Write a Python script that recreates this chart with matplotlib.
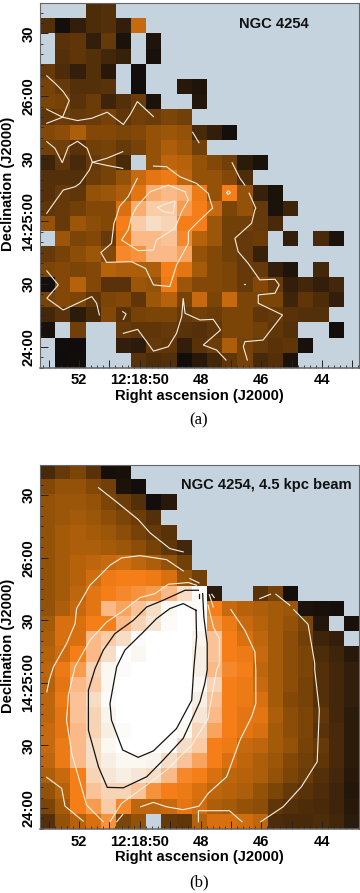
import numpy as np
import matplotlib
matplotlib.use('Agg')
import matplotlib.pyplot as plt
from matplotlib.colors import LinearSegmentedColormap
from matplotlib.ticker import MultipleLocator

N = np.nan

ra_range = [53.30, 42.80]
dec_range = [-10.06, 164.6]

flux_a = [
    [N, N, N, 28, 30, N, N, N, N, N, N, N, N, N, N, N, N, N, N, N, N],
    [30, 5, 18, 28, 30, 18, 62, N, N, N, N, N, N, N, N, N, N, N, N, N, N],
    [N, 32, 34, 18, 36, 8, N, 10, N, N, N, N, N, N, N, N, N, N, N, N, N],
    [N, 30, 34, 30, 24, 20, N, 6, N, N, N, N, N, N, N, N, N, N, N, N, N],
    [36, 28, 18, 30, 14, N, 4, N, N, N, N, N, N, N, N, N, N, N, N, N, N],
    [42, 36, 30, 30, 32, N, 3, N, N, 14, 10, N, N, N, N, N, N, N, N, N, N],
    [44, 42, 32, 38, 22, 30, 38, 8, N, N, 12, N, N, N, N, N, N, N, N, N, N],
    [34, 38, 36, 38, 42, 34, 40, 38, 44, 40, N, N, N, N, N, N, N, N, N, N, N],
    [46, 48, 56, 46, 46, 44, 46, 50, 52, 50, 26, 18, 5, N, N, N, N, N, N, N, N],
    [40, 40, 32, 40, 42, 36, 42, 50, 56, 52, 40, N, N, N, N, N, N, N, N, N, N],
    [22, 34, 26, 36, 42, 26, N, 50, 60, 58, 50, 46, 40, 16, 8, N, N, N, N, N, N],
    [30, 30, 30, 38, 42, 50, 62, 68, 70, 60, 50, 50, 46, 28, N, N, N, N, N, N, N],
    [30, 36, 34, 50, 52, 56, 68, 82, 84, 82, 70, 50, 72, 50, 20, 8, N, N, N, N, N],
    [34, 36, 40, 46, 46, 66, 82, 88, 88, 78, 72, 62, 44, 50, 36, 8, 22, N, N, N, N],
    [50, 36, 52, 48, 46, 72, 88, 92, 90, 72, 72, 52, 40, 40, 36, 26, N, N, N, N, N],
    [N, 52, 44, 46, 36, 70, 84, 84, 86, 74, 58, 52, 40, 36, 38, N, 18, N, 26, 8, N],
    [36, 42, 48, 52, 46, 74, 76, 84, 84, 80, 50, 46, 40, 36, 20, N, N, N, N, N, N],
    [44, 46, 44, 46, 58, 56, 56, 56, 72, 68, 54, 46, 44, 36, 36, 18, 10, N, 24, N, N],
    [5, 46, 58, 46, 32, 32, 52, 50, 70, 52, 46, 46, 44, 36, 46, 36, 18, 24, 18, 24, N],
    [42, 46, 44, 34, 44, 46, 34, 52, 58, 42, 62, 44, 62, 44, 44, 44, 22, 34, 28, 18, N],
    [24, 32, 16, 26, 46, 32, 42, 44, 44, 36, 40, 38, 44, 44, 34, 36, 32, 30, 30, N, N],
    [6, N, 40, N, N, 36, 34, 34, 36, 32, 30, 34, 44, 44, 40, 34, 30, N, N, 4, N],
    [N, 3, 2, N, N, 18, 16, 36, 34, 18, 32, 38, 56, 42, 36, 32, 34, 6, N, N, N],
    [N, 2, 3, N, N, N, 32, 28, 30, 3, 14, 24, 34, 42, 26, 30, 8, N, N, N, N],
]

flux_b = [
    [26, 36, 44, 32, 5, 6, N, N, N, N, N, N, N, N, N, N, N, N, N, N, N],
    [46, 50, 50, 46, 40, 8, 4, N, N, N, N, N, N, N, N, N, N, N, N, N, N],
    [50, 52, 52, 50, 44, 38, 30, 4, 14, N, N, N, N, N, N, N, N, N, N, N, N],
    [50, 52, 54, 52, 48, 44, 38, 30, N, N, N, N, N, N, N, N, N, N, N, N, N],
    [50, 54, 56, 54, 52, 48, 42, 36, 32, N, N, N, N, N, N, N, N, N, N, N, N],
    [50, 54, 56, 56, 54, 52, 48, 42, 34, 24, N, N, N, N, N, N, N, N, N, N, N],
    [50, 54, 58, 60, 62, 64, 60, 56, 50, 40, N, N, N, N, N, N, N, N, N, N, N],
    [50, 54, 58, 64, 70, 72, 72, 70, 66, 50, 40, N, N, N, N, N, N, N, N, N, N],
    [50, 54, 60, 68, 72, 74, 76, 78, 84, 92, 99, 16, N, N, 32, 42, 5, N, N, N, N],
    [50, 56, 62, 68, 84, 80, 86, 92, 98, 100, 99, 72, 62, 58, 56, 54, 52, 8, 6, 5, N],
    [54, 66, 66, 72, 72, 84, 90, 94, 99, 100, 99, 76, 70, 62, 58, 54, 50, 44, 12, N, 6],
    [56, 66, 66, 84, 88, 92, 99, 100, 100, 100, 97, 86, 72, 66, 60, 54, 48, 40, 22, 18, N],
    [58, 64, 72, 84, 92, 100, 98, 100, 100, 100, 96, 86, 72, 70, 62, 54, 48, 44, 28, 22, 14],
    [60, 70, 78, 90, 98, 99, 100, 100, 100, 100, 96, 84, 74, 72, 60, 54, 48, 44, 30, 24, 18],
    [58, 68, 84, 88, 98, 100, 100, 100, 100, 100, 98, 90, 72, 70, 62, 54, 48, 42, 30, 24, 18],
    [60, 70, 86, 92, 99, 100, 100, 100, 100, 100, 96, 86, 72, 70, 66, 54, 46, 42, 30, 24, 18],
    [60, 68, 86, 90, 97, 100, 100, 100, 100, 100, 94, 84, 72, 68, 68, 56, 48, 44, 34, 24, 16],
    [62, 68, 84, 90, 96, 99, 100, 100, 100, 98, 90, 80, 72, 68, 66, 54, 48, 44, 32, 26, 16],
    [62, 70, 84, 92, 98, 100, 100, 100, 99, 92, 88, 72, 70, 62, 60, 54, 50, 42, 36, 26, 16],
    [60, 70, 84, 92, 96, 98, 98, 97, 92, 86, 80, 72, 66, 60, 56, 52, 46, 40, 34, 26, 16],
    [56, 62, 72, 90, 94, 96, 94, 92, 84, 74, 72, 66, 60, 58, 56, 50, 44, 38, 30, 24, 14],
    [50, 58, 72, 86, 90, 90, 86, 76, 72, 70, 66, 60, 58, 56, 50, 44, 36, 32, 28, 22, 12],
    [44, 54, 72, 78, 88, 74, 60, 60, 62, 68, 64, 56, 54, 50, 48, 34, 30, 28, 26, 22, 14],
    [30, 50, 58, 66, 76, 44, 50, N, 36, 34, 58, 66, 66, 64, 60, 28, 26, 26, 28, 24, 16],
]

# contour lines as (RA seconds, Dec arcsec past 14:24:00)
contours_a = [
    [(53.06, 129.7), (52.79, 126.2), (52.52, 122.2), (52.32, 117.9), (52.54, 109.9), (53.06, 107.0)],
    [(53.06, 113.7), (52.54, 109.9), (52.05, 108.3), (51.58, 109.4), (51.07, 112.3), (50.54, 106.4),
     (50.32, 111.0), (50.08, 117.4), (49.55, 110.2)],
    [(53.06, 98.2), (52.79, 95.0), (52.55, 88.1), (52.35, 95.8), (52.05, 98.4), (51.73, 95.0), (51.56, 88.3),
     (51.09, 90.2), (50.56, 93.4)],
    [(51.56, 88.3), (51.04, 86.7), (50.56, 85.4)],
    [(51.56, 88.3), (51.66, 84.6), (51.97, 78.2), (52.13, 76.6), (52.52, 75.0), (52.79, 69.5), (53.06, 63.9)],
    [(48.26, 102.7), (48.05, 97.7)],
    [(46.96, 88.1), (46.70, 80.6), (46.54, 77.4)],
    [(46.40, 73.5), (46.18, 66.3), (46.21, 65.5), (46.32, 59.1), (46.87, 51.9), (46.76, 45.5), (46.43, 39.9),
     (46.05, 32.0), (45.55, 32.3), (45.41, 29.6), (45.55, 25.6), (46.10, 24.8), (46.10, 20.8), (45.30, 15.2),
     (45.94, 3.2), (46.54, 2.4), (46.59, 0.0), (46.46, -6.4)],
    [(47.14, 73.8), (47.09, 74.7), (47.01, 73.8), (47.09, 72.8), (47.14, 73.8)],
    [(49.55, 86.5), (49.12, 86.2), (48.68, 81.4), (48.13, 78.2), (47.75, 73.5), (47.60, 66.3), (47.67, 65.5),
     (48.13, 59.1), (48.40, 55.1), (48.40, 49.5), (48.79, 39.1), (49.01, 28.8), (49.55, 29.6), (49.81, 37.5),
     (50.27, 40.7), (51.09, 40.4), (51.28, 45.1), (50.93, 49.5), (50.85, 59.1), (50.76, 62.6), (50.67, 67.1),
     (50.38, 71.9), (50.08, 80.6)],
    [(48.51, 74.2), (49.06, 77.4), (49.66, 74.2), (50.10, 67.1), (50.27, 62.3), (50.38, 55.9), (50.60, 51.1),
     (50.05, 46.0), (49.55, 46.3), (49.45, 51.1), (48.84, 56.7), (48.62, 64.7), (48.40, 70.3), (48.51, 74.2)],
    [(49.42, 66.7), (49.15, 68.3), (48.84, 69.8), (48.90, 63.9), (49.22, 64.7), (49.42, 66.7)],
    [(53.06, 36.3), (52.68, 29.6), (53.06, 23.2), (52.52, 17.6), (51.58, 24.0), (51.42, 20.8), (51.33, 15.2)],
    [(50.56, 16.8), (50.45, 15.7), (50.54, 13.1)],
    [(50.54, 6.4), (50.07, 8.3), (49.77, 2.4), (49.55, -2.1), (49.06, 0.0), (48.79, 6.4), (48.62, 14.4),
     (48.57, 23.2), (48.51, 16.0), (48.02, 12.8), (47.58, 13.1), (47.34, 8.0), (47.91, 0.8), (47.47, -1.6),
     (47.16, -6.4)],
    [(46.56, 30.0), (46.52, 30.0)],
]

white_b = [
    [(51.36, 153.6), (50.76, 146.7), (50.05, 138.3), (49.66, 131.9), (49.01, 124.4), (48.57, 122.8)],
    [(48.57, 113.7), (49.12, 119.1), (49.99, 121.0), (50.60, 119.9), (50.98, 116.4), (51.64, 106.8),
     (52.08, 95.6), (52.13, 88.4), (52.41, 78.8), (52.84, 67.7), (52.98, 61.3), (53.06, 55.7)],
    [(48.35, 110.0), (48.05, 107.9)],
    [(47.00, 95.1), (46.54, 85.2), (46.21, 74.9), (46.18, 66.1), (46.18, 50.1), (46.32, 43.7), (46.70, 32.6),
     (47.14, 15.0), (47.75, 7.0), (48.05, 0.9), (48.57, -0.8), (49.12, 0.6), (49.55, 2.7), (49.97, 0.6)],
    [(53.06, 14.7), (52.57, 9.4), (52.46, 0.9), (51.86, -6.3)],
    [(48.13, 106.8), (48.40, 108.1), (49.06, 107.3), (49.50, 102.8), (49.99, 100.9), (50.60, 94.0),
     (51.09, 89.2), (51.64, 80.4), (52.13, 67.7), (52.35, 54.1), (52.41, 42.1), (52.24, 26.2), (51.75, 1.4),
     (51.20, -6.6)],
    [(47.75, 97.2), (47.58, 86.8), (47.38, 81.2), (47.38, 69.3), (47.47, 66.1), (47.69, 48.5), (47.75, 42.9),
     (48.29, 30.2), (49.12, 18.2), (49.77, 11.0), (50.60, 2.2), (50.98, -6.6)],
    [(47.71, 102.3), (47.58, 96.4)],
    [(47.63, 102.5), (47.55, 100.9)],
    [(50.76, -6.6), (50.56, -3.1)],
    [(46.05, 100.4), (45.70, 102.5)],
    [(45.52, 102.5), (45.06, 97.2)],
    [(44.93, 95.1), (44.46, 88.1), (44.24, 69.3), (44.24, 66.1), (44.09, 46.9), (44.16, 22.2), (44.68, 10.2),
     (45.28, 0.6), (46.02, -6.6)],
    [(48.07, -6.6), (48.07, -1.3), (47.05, -1.3), (46.63, -6.6)],
]

black_b = [
    [(48.07, 104.4), (48.51, 104.4), (49.23, 99.6), (49.77, 96.4), (50.21, 90.0), (50.82, 83.6), (51.20, 75.7),
     (51.47, 66.9), (51.69, 56.5), (51.69, 37.3), (51.36, 19.8), (51.07, 9.9), (50.54, 9.7), (49.77, 15.0),
     (49.23, 23.0), (48.57, 33.4), (48.02, 50.9), (47.86, 59.7), (47.78, 66.1), (47.78, 78.8), (47.89, 91.6),
     (47.93, 102.8)],
    [(48.05, 102.5), (48.05, 100.7)],
    [(48.15, 94.8), (48.13, 82.0), (48.22, 66.9), (48.29, 51.7), (48.79, 38.1), (49.55, 27.4), (50.05, 24.3),
     (50.56, 27.8), (50.93, 42.1), (50.98, 50.1), (50.76, 67.7), (50.49, 75.7), (49.88, 84.4), (49.45, 90.8),
     (49.01, 95.6), (48.57, 98.0), (48.15, 94.8)],
]

ra_ticks = [53, 52, 51, 50, 49, 48, 47, 46, 45, 44, 43]
ra_labels = ['', '52', '', '12:18:50', '', '48', '', '46', '', '44', '']
dec_ticks = [0, 30, 60, 90, 120, 150]
dec_labels = ['24:00', '30', '14:25:00', '30', '26:00', '30']

cmap = LinearSegmentedColormap.from_list('heat', [
    (0.00, '#0c0b0c'), (0.15, '#2a1a0a'), (0.30, '#54300a'), (0.45, '#804708'),
    (0.55, '#a85d0a'), (0.65, '#d56f10'), (0.72, '#f57e17'), (0.85, '#fbbd8d'),
    (0.95, '#f5ebdd'), (1.00, '#ffffff')])
cmap.set_bad('#c4d3dd')

W, H = 360, 893
plt.rcParams['font.family'] = ['Liberation Sans', 'DejaVu Sans']
plt.rcParams['font.weight'] = 'bold'

fig = plt.figure(figsize=(W / 100, H / 100), dpi=100)


def panel(top, bottom, flux, tag, tag_x, lines, cap):
    ax = fig.add_axes([39.5 / W, 1 - bottom / H, 319 / W, (bottom - top) / H])
    ax.imshow(np.array(flux, dtype=float), cmap=cmap, vmin=0, vmax=100, aspect='auto',
              interpolation='nearest', extent=[ra_range[0], ra_range[1], dec_range[0], dec_range[1]])
    for group, color, lw in lines:
        for c in group:
            ra, dec = zip(*c)
            ax.plot(ra, dec, color=color, lw=lw, solid_joinstyle='miter')
    ax.set_xlim(ra_range)
    ax.set_ylim(dec_range)
    ax.set_xticks(ra_ticks)
    ax.set_xticklabels(ra_labels, fontsize=10.6)
    ax.set_yticks(dec_ticks)
    ax.set_yticklabels(dec_labels, fontsize=10.6, rotation=90, va='center')
    ax.xaxis.set_minor_locator(MultipleLocator(0.2))
    ax.yaxis.set_minor_locator(MultipleLocator(5))
    ax.tick_params(which='major', direction='in', length=6, width=0.7, color='#222222', pad=4)
    ax.tick_params(which='minor', direction='in', length=2.5, width=0.6, color='#222222')
    ax.tick_params(axis='y', which='major', pad=3)
    for s in ax.spines.values():
        s.set_linewidth(0.8)
        s.set_color('#666666')
    ax.spines['bottom'].set_linewidth(1.1)
    ax.text(tag_x, 0.943, tag, transform=ax.transAxes, fontsize=10.6, ha='center', va='center', color='#111111')
    fig.text(8.5 / W, 1 - (top + 181) / H, 'Declination (J2000)', rotation=90, fontsize=10.6, ha='center', va='center')
    fig.text(199 / W, 1 - (bottom + 28.5) / H, 'Right ascension (J2000)', fontsize=10.6, ha='center', va='center')
    fig.text(199 / W, 1 - (bottom + 53) / H, cap, fontsize=12, fontweight='normal', family='Liberation Serif',
             ha='center', va='center')
    return ax


panel(3, 367.7, flux_a, 'NGC 4254', 0.734, [(contours_a, '#f6efe2', 0.8)], '(a)')
panel(464.7, 829, flux_b, 'NGC 4254, 4.5 kpc beam', 0.71,
      [(white_b, '#f8f3e8', 0.8), (black_b, '#141414', 0.9)], '(b)')

fig.savefig('out.png', dpi=100)
